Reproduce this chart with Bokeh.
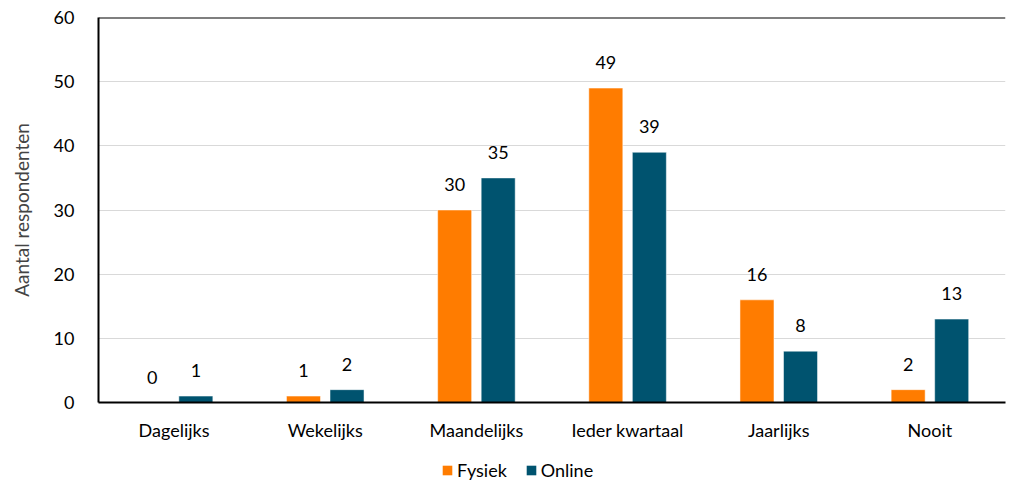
from bokeh.plotting import figure
from bokeh.layouts import column
from bokeh.models import ColumnDataSource, FactorRange, Range1d, LabelSet, Legend, LegendItem, Span
from bokeh.core.properties import value
from bokeh.transform import dodge
from bokeh.embed import file_html
from bokeh.resources import INLINE

categories = ["Dagelijks", "Wekelijks", "Maandelijks", "Ieder kwartaal", "Jaarlijks", "Nooit"]
fysiek = [0, 1, 30, 49, 16, 2]
online = [1, 2, 35, 39, 8, 13]
y_ticks = [0, 10, 20, 30, 40, 50, 60]
series_names = ["Fysiek", "Online"]

FONT = "Lato"
FS = "18px"
ORANGE = "#FF7C00"
BLUE = "#00536F"

src = ColumnDataSource(dict(
    cat=categories, fysiek=fysiek, online=online,
    fysiek_lbl=[str(v) for v in fysiek], online_lbl=[str(v) for v in online],
))

p = figure(x_range=FactorRange(*categories, range_padding=0), y_range=Range1d(0, 60),
           width=1006, height=447, output_backend="svg", toolbar_location=None,
           min_border_left=98, min_border_right=1, min_border_top=17, min_border_bottom=45)

p.vbar(x=dodge("cat", -0.144, range=p.x_range), top="fysiek", width=0.225, source=src,
       fill_color=ORANGE, line_color="white", line_width=0.5)
p.vbar(x=dodge("cat", 0.144, range=p.x_range), top="online", width=0.225, source=src,
       fill_color=BLUE, line_color="white", line_width=0.5)

for col, off in (("fysiek", -0.144), ("online", 0.144)):
    p.add_layout(LabelSet(x=dodge("cat", off, range=p.x_range), y=col, text=col + "_lbl", source=src,
                          text_align="center", text_baseline="bottom", y_offset=19,
                          text_font=value(FONT), text_font_size=FS, text_color="#000000"))

p.add_layout(Span(location=60, dimension="width", line_color="#000000", line_width=2))

p.outline_line_color = None
p.xgrid.grid_line_color = None
p.ygrid.grid_line_color = "#D9D9D9"
p.ygrid.grid_line_width = 1
p.yaxis.ticker = y_ticks

p.yaxis.axis_label = "Aantal respondenten"
p.yaxis.axis_label_text_font = FONT
p.yaxis.axis_label_text_font_style = "normal"
p.yaxis.axis_label_text_font_size = "19px"
p.yaxis.axis_label_standoff = 18
p.yaxis.axis_line_color = "#000000"
p.yaxis.axis_line_width = 2

for ax in (p.xaxis, p.yaxis):
    ax.major_tick_line_color = None
    ax.minor_tick_line_color = None
    ax.major_label_text_font = FONT
    ax.major_label_text_font_size = FS
    ax.major_label_text_color = "#000000"
p.yaxis.major_label_standoff = 18
p.xaxis.axis_line_color = "#000000"
p.xaxis.axis_line_width = 2
p.xaxis.major_label_standoff = 10

# legend strip below the chart (zero-height placeholder bars carry the legend swatches)
q = figure(width=1006, height=38, output_backend="svg", toolbar_location=None,
           min_border_left=98, min_border_right=1, min_border_top=0, min_border_bottom=0,
           x_range=FactorRange(*series_names), y_range=Range1d(0, 1))
q.axis.visible = False
q.grid.visible = False
q.outline_line_color = None
lr1 = q.vbar(x=[series_names[0]], top=[0], width=0.1, fill_color=ORANGE, line_color=None)
lr2 = q.vbar(x=[series_names[1]], top=[0], width=0.1, fill_color=BLUE, line_color=None)

legend = Legend(items=[LegendItem(label=series_names[0], renderers=[lr1]),
                       LegendItem(label=series_names[1], renderers=[lr2])],
                orientation="horizontal", location=(343, 4),
                label_text_font=FONT, label_text_font_size=FS, label_text_color="#000000",
                glyph_width=12, glyph_height=12, spacing=18, label_standoff=4,
                border_line_color=None, background_fill_alpha=0, margin=0, padding=2)
q.add_layout(legend)

open("out.html", "w").write(file_html(column(p, q, spacing=0), INLINE))
